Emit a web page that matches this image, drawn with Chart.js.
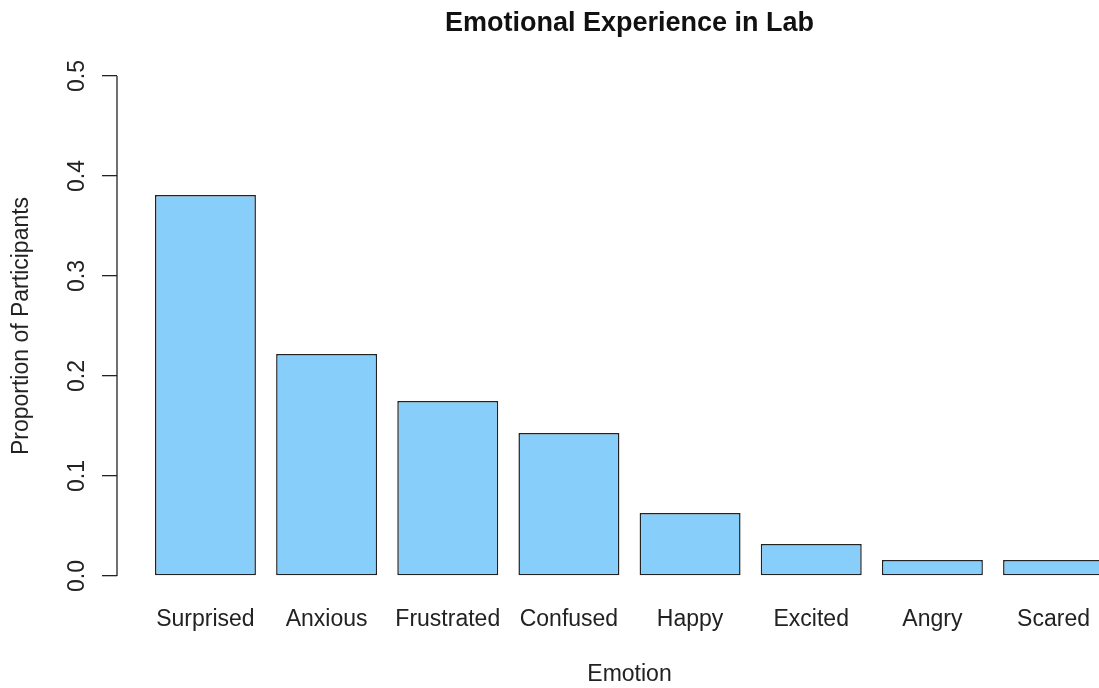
<!DOCTYPE html>
<html>
<head>
<meta charset="utf-8">
<script src="https://cdn.jsdelivr.net/npm/chart.js@4/dist/chart.umd.min.js"></script>
<style>
  html, body { margin: 0; padding: 0; background: #fff; overflow: hidden; }
  #wrap { width: 1150px; height: 688px; }
</style>
</head>
<body>
<div id="wrap"><canvas id="chartEmosi"></canvas></div>
<script>
// data dari grafik
const emosi = ["Surprised", "Anxious", "Frustrated", "Confused", "Happy", "Excited", "Angry", "Scared"];
const proporsi = [0.381, 0.222, 0.175, 0.143, 0.063, 0.032, 0.016, 0.016];
const yTicks = [0, 0.1, 0.2, 0.3, 0.4, 0.5];

// posisi bar ala barplot R (lebar 1, space 0.2)
const posisi = emosi.map((e, i) => 0.7 + 1.2 * i);

const warnaTeks = "#222";
const fontDasar = { family: "'Liberation Sans', Arial, sans-serif", size: 23 };

// garis sumbu y hanya dari 0 sampai 0.5 (seperti R)
const garisSumbuY = {
    id: "garisSumbuY",
    afterDraw(chart) {
        const y = chart.scales.y;
        const ctx = chart.ctx;
        ctx.save();
        ctx.strokeStyle = warnaTeks;
        ctx.lineWidth = 1.3;
        ctx.beginPath();
        ctx.moveTo(chart.chartArea.left, y.getPixelForValue(yTicks[0]));
        ctx.lineTo(chart.chartArea.left, y.getPixelForValue(yTicks[yTicks.length - 1]));
        ctx.stroke();
        ctx.restore();
    }
};

const canvas = document.getElementById("chartEmosi");
new Chart(canvas.getContext("2d"), {
    type: "bar",
    data: {
        datasets: [{
            data: emosi.map((e, i) => ({ x: posisi[i], y: proporsi[i] })),
            backgroundColor: "#87CEFA",
            borderColor: "#222",
            borderWidth: 1.5,
            borderSkipped: false,
            categoryPercentage: 1,
            barPercentage: 1 / 1.2
        }]
    },
    options: {
        responsive: true,
        maintainAspectRatio: false,
        animation: false,
        layout: { padding: { left: 0, right: 8, top: 0, bottom: 0 } },
        scales: {
            x: {
                type: "linear",
                offset: false,
                min: -0.176,
                max: 9.976,
                grid: { display: false },
                border: { display: false },
                afterBuildTicks: (scale) => {
                    scale.ticks = posisi.map(p => ({ value: p }));
                },
                afterFit: (scale) => { scale.height = 92; },
                ticks: {
                    autoSkip: false,
                    maxRotation: 0,
                    padding: 2,
                    color: warnaTeks,
                    font: fontDasar,
                    callback: (value, index) => emosi[index]
                },
                title: {
                    display: true,
                    text: "Emotion",
                    color: warnaTeks,
                    font: fontDasar,
                    padding: { top: 0, bottom: 0 }
                }
            },
            y: {
                min: -0.02,
                max: 0.52,
                afterBuildTicks: (scale) => {
                    scale.ticks = yTicks.map(v => ({ value: v }));
                },
                afterFit: (scale) => { scale.width = 117; },
                grid: {
                    drawOnChartArea: false,
                    drawTicks: true,
                    tickLength: 15,
                    color: warnaTeks,
                    lineWidth: 1.3
                },
                border: { display: false },
                ticks: {
                    minRotation: 90,
                    maxRotation: 90,
                    crossAlign: "center",
                    padding: 8,
                    color: warnaTeks,
                    font: fontDasar,
                    callback: (value) => value.toFixed(1)
                },
                title: {
                    display: true,
                    text: "Proportion of Participants",
                    color: warnaTeks,
                    font: fontDasar,
                    padding: { top: 8, bottom: 0 }
                }
            }
        },
        plugins: {
            legend: { display: false },
            tooltip: { enabled: false },
            title: {
                display: true,
                fullSize: false,
                text: "Emotional Experience in Lab",
                color: "#111",
                font: { family: "'Liberation Sans', Arial, sans-serif", size: 27, weight: "bold" },
                padding: { top: 7, bottom: 16.6 }
            }
        }
    },
    plugins: [garisSumbuY]
});
</script>
</body>
</html>
